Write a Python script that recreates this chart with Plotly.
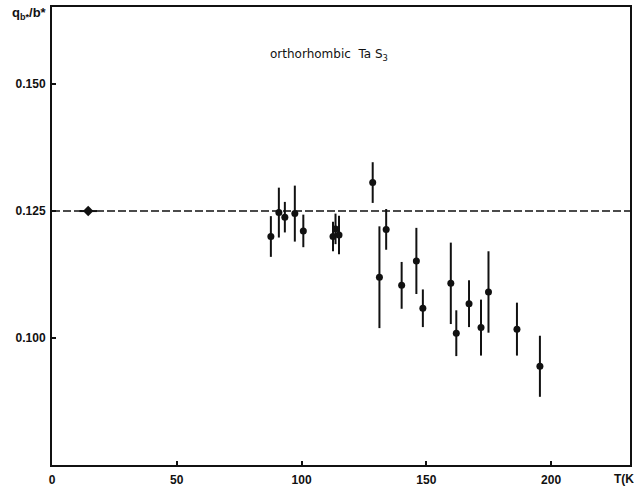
import plotly.graph_objects as go

# Temperature (K) and CDW wave vector component q_b*/b* with uncertainties
temperature = [14.5, 87.7, 90.9, 93.3, 97.3, 100.7, 112.6, 113.6, 115.0, 128.5,
               131.2, 133.9, 140.1, 146.0, 148.6, 159.8, 162.0, 167.1, 171.9,
               174.9, 186.3, 195.5]
q_ratio = [0.1250, 0.1200, 0.1247, 0.1238, 0.1245, 0.1211, 0.1200, 0.1215, 0.1203,
           0.1306, 0.1120, 0.1214, 0.1104, 0.1152, 0.1059, 0.1108, 0.1010, 0.1068,
           0.1021, 0.1091, 0.1018, 0.0945]
q_err = [0.0, 0.0040, 0.0049, 0.0030, 0.0055, 0.0032, 0.0029, 0.0030, 0.0038,
         0.0040, 0.0100, 0.0040, 0.0046, 0.0065, 0.0037, 0.0080, 0.0045, 0.0046,
         0.0055, 0.0080, 0.0052, 0.0060]

commensurate_q = 0.125  # 1/8 reference level

x_ticks = [0, 50, 100, 150, 200]
y_ticks = [0.100, 0.125, 0.150]
y_tick_text = ["0.100", "0.125", "0.150"]

x_range = [0, 231.6]
y_range = [0.0751, 0.1651]

font_family = "Liberation Sans"
ink = "#111111"

fig = go.Figure()

# commensurate reference line
fig.add_trace(go.Scatter(
    x=x_range, y=[commensurate_q, commensurate_q],
    mode="lines",
    line=dict(color=ink, width=1.6, dash="8px,3px"),
    hoverinfo="skip", showlegend=False,
))

# low-temperature point drawn as a small blob with a short horizontal bar
fig.add_trace(go.Scatter(
    x=temperature[:1], y=q_ratio[:1],
    mode="markers",
    marker=dict(symbol="diamond", size=8, color=ink),
    error_x=dict(type="constant", value=3.5, thickness=2, width=0, color=ink),
    showlegend=False,
))

# remaining measurements with vertical error bars
fig.add_trace(go.Scatter(
    x=temperature[1:], y=q_ratio[1:],
    mode="markers",
    marker=dict(symbol="circle", size=7, color=ink),
    error_y=dict(type="data", array=q_err[1:], thickness=2, width=0, color=ink),
    showlegend=False,
))

tick_font = dict(family=font_family, size=12, color=ink, weight="bold")

fig.update_layout(
    width=634, height=489,
    margin=dict(l=52, r=1.5, t=7, b=23),
    paper_bgcolor="white", plot_bgcolor="white",
    font=dict(family=font_family, size=12, color=ink),
    xaxis=dict(
        range=x_range, tickvals=x_ticks,
        ticks="inside", ticklen=4, tickwidth=1.5, tickcolor=ink,
        showline=True, linewidth=2, linecolor=ink, mirror=True,
        showgrid=False, zeroline=False, ticklabelstandoff=3,
        tickfont=tick_font,
    ),
    yaxis=dict(
        range=y_range, tickvals=y_ticks, ticktext=y_tick_text,
        ticks="inside", ticklen=4, tickwidth=1.5, tickcolor=ink,
        showline=True, linewidth=2, linecolor=ink, mirror=True,
        showgrid=False, zeroline=False, ticklabelstandoff=2,
        tickfont=tick_font,
    ),
    annotations=[
        dict(text="orthorhombic  Ta S<sub>3</sub>", x=330, y=55,
             font=dict(family="DejaVu Sans", size=12, color=ink)),
        dict(text="q<sub>b*</sub>/b*", x=29, y=14,
             font=dict(family=font_family, size=13, color=ink, weight="bold")),
        dict(text="T(K", x=626, y=480,
             font=dict(family=font_family, size=12, color=ink, weight="bold")),
    ],
)

# place the free-standing labels in pixel coordinates
for ann in fig.layout.annotations:
    ann.update(xref="paper", yref="paper", showarrow=False,
               x=(ann.x - 52) / (634 - 52 - 1.5),
               y=1 - (ann.y - 7) / (489 - 7 - 23),
               xanchor="center", yanchor="middle")

fig.write_html("out.html")
